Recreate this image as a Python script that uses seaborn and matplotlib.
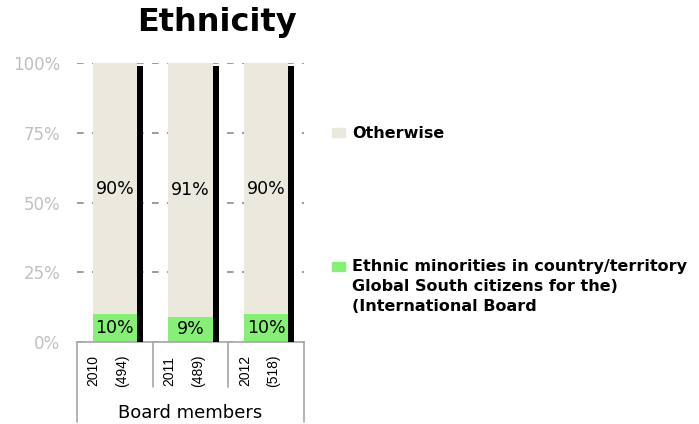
import numpy as np
import pandas as pd
import matplotlib.pyplot as plt
import matplotlib.transforms as mtransforms
from matplotlib.patches import Rectangle
import seaborn as sns

# Chart data
years = ['2010', '2011', '2012']
board_sizes = [494, 489, 518]
minority_pct = [10, 9, 10]
otherwise_pct = [90, 91, 90]
legend_labels = ['Otherwise',
                 'Ethnic minorities in country/territory\nGlobal South citizens for the)\n(International Board']

beige = '#ebe9de'
green = '#86f076'
grid_gray = '#8c8c8c'
line_gray = '#a6a6a6'

df = pd.DataFrame({
    'label': [f'{y}\n({n})' for y, n in zip(years, board_sizes)],
    'minority': minority_pct,
    'otherwise': otherwise_pct,
})
df['total'] = df['minority'] + df['otherwise']

sns.set_style('white')
plt.rcParams['font.family'] = ['DejaVu Sans']
plt.rcParams['text.color'] = 'black'
plt.rcParams['xtick.color'] = 'black'

fig = plt.figure(figsize=(6.99, 4.24), dpi=100)
ax = fig.add_axes([77 / 699, 1 - 342 / 424, 227 / 699, 279 / 424])

# Stacked bars: full height (otherwise on top) then minority share over it
sns.barplot(data=df, x='label', y='total', color=beige, width=0.59,
            saturation=1, linewidth=0, ax=ax)
sns.barplot(data=df, x='label', y='minority', color=green, width=0.59,
            saturation=1, linewidth=0, ax=ax)
# dark side of each column
pos = np.arange(len(df))
ax.bar(pos + 0.333, df['total'] - 1, width=0.077, color='black',
       linewidth=0, zorder=3)

for i, row in df.iterrows():
    ax.text(i, row['minority'] / 2, f"{row['minority']}%", ha='center',
            va='center', fontsize=12.5, zorder=4)
    ax.text(i, row['minority'] + row['otherwise'] / 2, f"{row['otherwise']}%",
            ha='center', va='center', fontsize=12.5, zorder=4)

ax.set_xlim(-0.5, 2.5)
ax.set_ylim(0, 100)
ax.set_yticks([0, 25, 50, 75, 100])
ax.set_yticklabels(['0%', '25%', '50%', '75%', '100%'], color='#c0c0c0',
                   fontsize=12)
ax.yaxis.grid(True, color=grid_gray, linestyle=(0, (4, 5)), linewidth=1.2)
ax.xaxis.grid(False)
ax.set_axisbelow(True)
ax.tick_params(axis='y', length=0, pad=12)
ax.tick_params(axis='x', length=0, pad=9)
ax.set_xlabel('')
ax.set_ylabel('')

for lbl in ax.get_xticklabels():
    lbl.set_rotation(90)
    lbl.set_fontsize(10)
    lbl.set_family('Liberation Sans')
    lbl.set_linespacing(2.3)
    lbl.set_transform(lbl.get_transform() +
                      mtransforms.ScaledTranslation(-7 / 100, 0, fig.dpi_scale_trans))

for side in ['left', 'top', 'right']:
    ax.spines[side].set_visible(False)
ax.spines['bottom'].set_color(line_gray)
ax.spines['bottom'].set_linewidth(1.2)

# category box below the axis
trans = mtransforms.blended_transform_factory(ax.transData, ax.transAxes)
for xv, depth in [(-0.5, -0.287), (0.5, -0.161), (1.5, -0.161), (2.5, -0.287)]:
    ax.plot([xv, xv], [0, depth], transform=trans, color=line_gray, lw=1.2,
            clip_on=False)

fig.text(190 / 699, 1 - 413 / 424, 'Board members', ha='center', va='center',
         fontsize=13)

fig.text(217 / 699, 1 - 23 / 424, 'Ethnicity', ha='center', va='center',
         fontsize=23, fontweight='bold')

# legend
fig.patches.append(Rectangle((332 / 699, 1 - 137 / 424), 13 / 699, 9 / 424,
                             transform=fig.transFigure, color=beige))
fig.text(352 / 699, 1 - 133 / 424, legend_labels[0], ha='left', va='center',
         fontsize=11.5, fontweight='bold')
fig.patches.append(Rectangle((332 / 699, 1 - 271 / 424), 13 / 699, 9 / 424,
                             transform=fig.transFigure, color=green))
fig.text(352 / 699, 1 - 259 / 424, legend_labels[1], ha='left', va='top',
         fontsize=11.5, fontweight='bold', linespacing=1.4)

fig.savefig('out.png', dpi=100)
